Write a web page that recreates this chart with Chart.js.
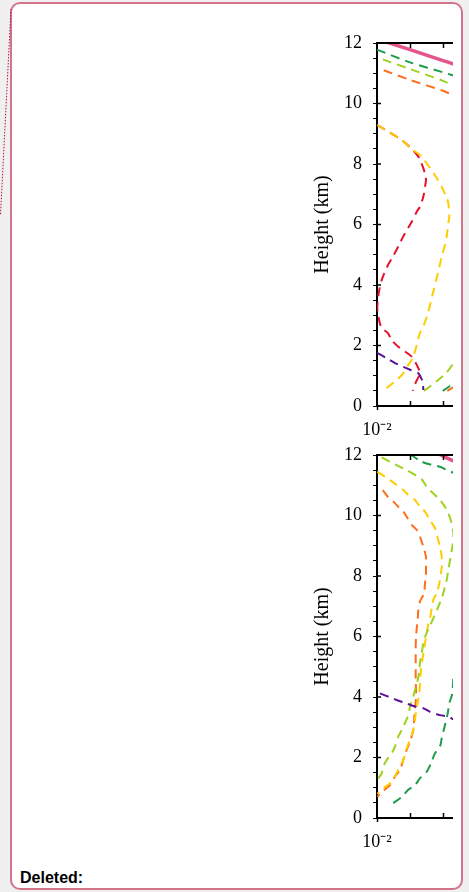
<!DOCTYPE html>
<html>
<head>
<meta charset="utf-8">
<title>Height profiles</title>
<script src="https://cdn.jsdelivr.net/npm/chart.js@4.4.0/dist/chart.umd.min.js"></script>
<style>
    html, body { margin: 0; padding: 0; }
    body {
        width: 469px; height: 892px; position: relative; overflow: hidden;
        background: #f0f0f0;
        font-family: 'Liberation Sans', Arial, sans-serif;
    }
    .page {
        position: absolute; left: 10px; top: 2px; width: 449px; height: 884px;
        background: #fff; border: 2px solid #d27389; border-radius: 10px;
    }
    .marker { position: absolute; left: 0; top: 0; }
    .plot { position: absolute; left: 300px; width: 153px; height: 440px; }
    #topPlot { top: 20px; }
    #bottomPlot { top: 432px; }
    .deleted {
        position: absolute; left: 20px; top: 869px;
        font-weight: bold; font-size: 16px; color: #000;
    }
</style>
</head>
<body>
<div class="page"></div>
<svg class="marker" width="20" height="230">
    <line x1="11" y1="9" x2="0.5" y2="215" stroke="#b3123f" stroke-width="1" stroke-dasharray="1.5,1.5"/>
</svg>
<div class="plot" id="topPlot"><canvas id="topChart" width="153" height="440"></canvas></div>
<div class="plot" id="bottomPlot"><canvas id="bottomChart" width="153" height="440"></canvas></div>
<div class="deleted">Deleted:</div>

<script>
// axis setup
const xMin = 0.01;
const xMax = 2.01;
const xTicks = [0.01, 0.1, 1];
const xTickLabels = ['10\u207B\u00B2', '', ''];
const yLabelTicks = [0, 2, 4, 6, 8, 10, 12];
const yTitle = 'Height (km)';

// upper panel, [value, height km]
const topPink = [[0.01, 12.13], [0.1, 11.78], [1, 11.42], [2.0, 11.31], [4.0, 11.2]];
const topGreen = [[0.01, 11.78], [0.1, 11.36], [1, 11.03], [2.0, 10.93], [4.0, 10.85]];
const topYellowGreen = [[0.015, 11.46], [0.1, 11.14], [1, 10.75], [2.0, 10.6], [4.0, 10.5]];
const topOrange = [[0.016, 11.1], [0.1, 10.78], [1, 10.42], [2.0, 10.28], [4.0, 10.18]];
const topRed = [
    [0.0101, 9.29], [0.056, 8.79], [0.123, 8.46], [0.19, 8.2], [0.285, 7.69], [0.305, 7.47],
    [0.285, 7.25], [0.253, 6.92], [0.2, 6.59], [0.16, 6.42], [0.113, 6.09], [0.087, 5.88],
    [0.062, 5.6], [0.05, 5.39], [0.0305, 4.94], [0.0215, 4.66], [0.0139, 4.17], [0.0113, 3.74],
    [0.0102, 3.28], [0.0105, 3.07], [0.0135, 2.6], [0.0215, 2.41], [0.0279, 2.18], [0.0441, 1.96],
    [0.0708, 1.8], [0.113, 1.63], [0.16, 1.36], [0.2, 1.08], [0.152, 0.8], [0.121, 0.5]
];
const topGold = [
    [0.0101, 9.29], [0.056, 8.79], [0.123, 8.46], [0.2, 8.3], [0.404, 7.87], [0.644, 7.54],
    [0.914, 7.25], [1.295, 6.88], [1.45, 6.71], [1.55, 6.26], [1.45, 6.05], [1.295, 5.6],
    [1.15, 5.32], [0.914, 4.94], [0.705, 4.4], [0.498, 3.74], [0.35, 3.07], [0.248, 2.61],
    [0.2, 2.41], [0.126, 1.63], [0.089, 1.36], [0.0627, 1.08], [0.0395, 0.86], [0.0149, 0.5]
];
const topPurple = [
    [0.01, 1.76], [0.0197, 1.58], [0.0351, 1.42], [0.0614, 1.3], [0.105, 1.19],
    [0.179, 1.08], [0.243, 0.8], [0.253, 0.53]
];
const topYellowGreenLow = [[0.265, 0.5], [0.72, 0.86], [1.23, 1.08], [2.0, 1.38], [3.0, 1.6]];
const topGreenLow = [[0.98, 0.5], [1.63, 0.66], [2.5, 0.8]];
const topOrangeLow = [[1.35, 0.5], [1.84, 0.59], [2.5, 0.66]];

// lower panel, [value, height km]
const botPink = [[0.6, 12.1], [0.77, 12.03], [2.0, 11.81], [4.0, 11.7]];
const botGreen = [[0.1, 12.03], [0.2, 11.81], [0.36, 11.7], [0.81, 11.61], [1.45, 11.48], [2.0, 11.42], [4.0, 11.3]];
const botYellowGreen = [
    [0.0139, 11.92], [0.0498, 11.61], [0.0794, 11.5], [0.142, 11.34], [0.226, 11.2], [0.321, 10.95],
    [0.508, 10.73], [0.81, 10.51], [1.15, 10.29], [1.45, 10.07], [1.84, 9.74], [2.1, 9.3],
    [1.84, 8.86], [1.45, 8.2], [1.295, 7.87], [1.15, 7.65], [0.95, 7.32], [0.7, 6.95],
    [0.42, 6.4], [0.285, 5.99], [0.253, 5.78], [0.226, 5.44], [0.2, 5.11], [0.191, 4.84],
    [0.171, 4.56], [0.142, 4.23], [0.126, 4.01], [0.1, 3.68], [0.089, 3.4], [0.0562, 2.91],
    [0.0441, 2.69], [0.0351, 2.36], [0.0279, 2.14], [0.0197, 1.92], [0.0155, 1.7],
    [0.0139, 1.48], [0.0102, 1.26]
];
const botGold = [
    [0.0102, 11.45], [0.0248, 11.17], [0.0395, 11.01], [0.0627, 10.84], [0.0887, 10.68],
    [0.142, 10.51], [0.2, 10.29], [0.285, 10.13], [0.404, 9.85], [0.573, 9.58], [0.672, 9.3],
    [0.81, 8.97], [0.914, 8.64], [0.914, 8.31], [0.869, 8.09], [0.773, 7.76], [0.672, 7.48],
    [0.508, 7.21], [0.455, 6.93], [0.404, 6.6], [0.344, 6.32], [0.27, 5.6], [0.215, 4.9],
    [0.19, 4.1], [0.152, 3.5], [0.126, 2.9], [0.0794, 2.3], [0.0627, 1.92], [0.0441, 1.6],
    [0.0351, 1.37], [0.0248, 1.15], [0.0155, 0.98], [0.0102, 0.8]
];
const botOrange = [
    [0.0149, 10.84], [0.022, 10.6], [0.0312, 10.46], [0.0441, 10.29], [0.0627, 10.13],
    [0.0794, 9.96], [0.113, 9.69], [0.16, 9.52], [0.2, 9.3], [0.253, 8.97], [0.305, 8.64],
    [0.305, 8.31], [0.305, 8.03], [0.285, 7.76], [0.265, 7.43], [0.2, 7.15], [0.179, 6.88],
    [0.171, 6.55], [0.16, 6.27], [0.152, 5.99], [0.149, 5.66], [0.149, 5.11], [0.149, 4.51],
    [0.152, 4.23], [0.152, 3.96], [0.142, 3.63], [0.135, 3.3], [0.125, 2.9], [0.1, 2.52],
    [0.0794, 2.25], [0.0627, 1.92], [0.0498, 1.59], [0.0351, 1.37], [0.0248, 1.09],
    [0.0155, 0.9], [0.0102, 0.7]
];
const botPurple = [
    [0.0123, 4.12], [0.0248, 3.99], [0.0395, 3.9], [0.0794, 3.79], [0.126, 3.7],
    [0.253, 3.63], [0.404, 3.51], [0.81, 3.4], [1.45, 3.35], [2.04, 3.26]
];
const botGreenLow = [
    [0.0312, 0.49], [0.0562, 0.7], [0.0887, 0.93], [0.142, 1.09], [0.2, 1.31], [0.321, 1.53],
    [0.433, 1.81], [0.573, 2.14], [0.81, 2.36], [0.914, 2.63], [1.39, 3.46], [1.55, 3.79],
    [1.9, 4.1], [2.05, 4.6]
];

const colors = {
    pink: '#e5558c',
    green: '#1e9c4b',
    yellowGreen: '#9fd11e',
    orange: '#ff6e1a',
    red: '#e5102c',
    gold: '#ffcc00',
    purple: '#5c1099'
};

Chart.defaults.font.family = "'Liberation Serif', 'Times New Roman', serif";
Chart.defaults.color = '#000';

// turn [x, y] pairs into a dashed line dataset
function curve(points, color, solid) {
    return {
        data: points.map(p => ({ x: p[0], y: p[1] })),
        borderColor: color,
        borderWidth: solid ? 3.5 : 2,
        borderDash: solid ? [] : [9, 6],
        pointRadius: 0,
        tension: 0.25,
        fill: false,
        clip: 0
    };
}

// top frame line and inward ticks
const frameTicks = {
    id: 'frameTicks',
    afterDraw(chart) {
        const { ctx, chartArea } = chart;
        const xs = chart.scales.x;
        const ys = chart.scales.y;
        ctx.save();
        ctx.strokeStyle = '#000';
        ctx.lineWidth = 2;
        ctx.beginPath();
        ctx.moveTo(chartArea.left - 1, chartArea.top);
        ctx.lineTo(chartArea.right, chartArea.top);
        ctx.stroke();

        ctx.lineWidth = 1.5;
        ctx.beginPath();
        xTicks.slice(1).forEach(v => {
            const px = Math.round(xs.getPixelForValue(v)) + 0.5;
            ctx.moveTo(px, chartArea.bottom);
            ctx.lineTo(px, chartArea.bottom - 5);
            ctx.moveTo(px, chartArea.top);
            ctx.lineTo(px, chartArea.top + 5);
        });
        yLabelTicks.forEach(v => {
            const py = ys.getPixelForValue(v);
            ctx.moveTo(chartArea.left, py);
            ctx.lineTo(chartArea.left + 4, py);
        });
        ctx.stroke();
        ctx.restore();
    }
};

function buildChart(canvasId, datasets) {
    const ctx = document.getElementById(canvasId).getContext('2d');
    return new Chart(ctx, {
        type: 'line',
        data: { datasets: datasets },
        plugins: [frameTicks],
        options: {
            responsive: false,
            animation: false,
            events: [],
            layout: { padding: { top: 23, right: 0, bottom: 0, left: 0 } },
            plugins: {
                legend: { display: false },
                tooltip: { enabled: false }
            },
            scales: {
                x: {
                    type: 'logarithmic',
                    min: xMin,
                    max: xMax,
                    afterBuildTicks: scale => {
                        scale.ticks = xTicks.map(v => ({ value: v }));
                    },
                    afterFit: scale => { scale.height = 54; },
                    border: { display: true, color: '#000', width: 2 },
                    grid: {
                        drawOnChartArea: false,
                        tickLength: 4,
                        tickWidth: 1.5,
                        tickColor: c => (c.index === 0 ? '#000' : 'rgba(0,0,0,0)')
                    },
                    ticks: {
                        autoSkip: false,
                        maxRotation: 0,
                        padding: 9,
                        font: { size: 18 },
                        callback: (v, i) => xTickLabels[i]
                    }
                },
                y: {
                    type: 'linear',
                    min: 0,
                    max: 12,
                    afterFit: scale => { scale.width = 77; },
                    border: { display: true, color: '#000', width: 2 },
                    grid: {
                        drawOnChartArea: false,
                        tickLength: 4,
                        tickWidth: 1,
                        tickColor: '#000'
                    },
                    ticks: {
                        stepSize: 0.5,
                        autoSkip: false,
                        padding: 11,
                        font: { size: 18 },
                        callback: v => (yLabelTicks.includes(v) ? String(v) : '')
                    },
                    title: {
                        display: true,
                        text: yTitle,
                        font: { size: 20 },
                        padding: { top: 11, bottom: 0 }
                    }
                }
            }
        }
    });
}

buildChart('topChart', [
    curve(topPurple, colors.purple),
    curve(topYellowGreenLow, colors.yellowGreen),
    curve(topGreenLow, colors.green),
    curve(topOrangeLow, colors.orange),
    curve(topGold, colors.gold),
    curve(topRed, colors.red),
    curve(topOrange, colors.orange),
    curve(topYellowGreen, colors.yellowGreen),
    curve(topGreen, colors.green),
    curve(topPink, colors.pink, true)
]);

buildChart('bottomChart', [
    curve(botPurple, colors.purple),
    curve(botGreenLow, colors.green),
    curve(botYellowGreen, colors.yellowGreen),
    curve(botGold, colors.gold),
    curve(botOrange, colors.orange),
    curve(botGreen, colors.green),
    curve(botPink, colors.pink, true)
]);
</script>
</body>
</html>
